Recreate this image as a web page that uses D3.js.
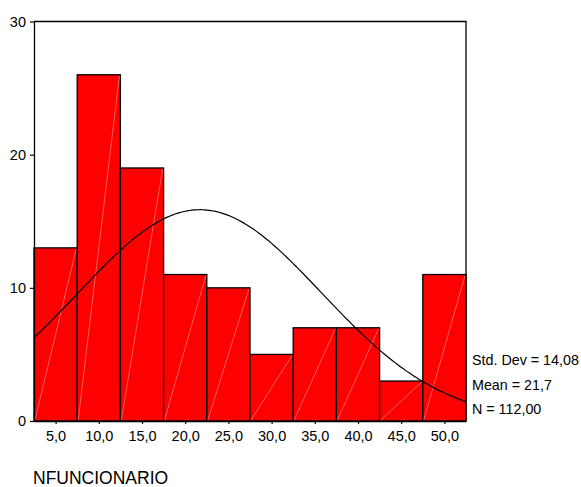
<!DOCTYPE html>
<html>
<head>
<meta charset="utf-8">
<script src="https://cdn.jsdelivr.net/npm/d3@7/dist/d3.min.js"></script>
<style>
  html, body { margin: 0; padding: 0; background: #fff; }
  svg { display: block; font-family: "Liberation Sans", Arial, sans-serif; }
</style>
</head>
<body>
<svg id="chart" width="581" height="487"></svg>
<script>
// Histogram of NFUNCIONARIO with a fitted normal curve
const binStarts = [2.5, 7.5, 12.5, 17.5, 22.5, 27.5, 32.5, 37.5, 42.5, 47.5];
const binWidth = 5;
const counts = [13, 26, 19, 11, 10, 5, 7, 7, 3, 11];
const xTicks = [5, 10, 15, 20, 25, 30, 35, 40, 45, 50];
const yTicks = [0, 10, 20, 30];
const stdDev = 14.08;
const mean = 21.7;
const nTotal = 112;
const statLabels = ["Std. Dev = 14,08", "Mean = 21,7", "N = 112,00"];
const variableName = "NFUNCIONARIO";

const svg = d3.select("#chart");
const plotLeft = 34, plotRight = 466, plotTop = 21.5, plotBottom = 421;

const x = d3.scaleLinear().domain([2.5, 52.5]).range([plotLeft, plotRight]);
const y = d3.scaleLinear().domain([0, 30]).range([plotBottom, plotTop]);

// bars
const bars = svg.append("g");
bars.selectAll("rect")
  .data(counts)
  .join("rect")
  .attr("x", (d, i) => x(binStarts[i]))
  .attr("y", d => y(d))
  .attr("width", (d, i) => x(binStarts[i] + binWidth) - x(binStarts[i]))
  .attr("height", d => y(0) - y(d))
  .attr("fill", "#ff0000")
  .attr("stroke", "#000")
  .attr("stroke-width", 1.3);

// faint diagonal inside each bar
bars.selectAll("line")
  .data(counts)
  .join("line")
  .attr("x1", (d, i) => x(binStarts[i]) + 1)
  .attr("y1", y(0) - 1)
  .attr("x2", (d, i) => x(binStarts[i] + binWidth) - 1)
  .attr("y2", d => y(d) + 1)
  .attr("stroke", "#ff9c9c")
  .attr("stroke-width", 0.6);

// frame top and right
svg.append("path")
  .attr("d", `M${plotLeft},${plotTop}H${plotRight}V${plotBottom}`)
  .attr("fill", "none")
  .attr("stroke", "#000")
  .attr("stroke-width", 1.3);

// normal curve from stated mean / std. dev / N
const scaleFactor = nTotal * binWidth / (stdDev * Math.sqrt(2 * Math.PI));
const curveXs = d3.range(2.5, 52.5001, 0.25);
const line = d3.line()
  .x(v => x(v))
  .y(v => y(scaleFactor * Math.exp(-0.5 * Math.pow((v - mean) / stdDev, 2))))
  .curve(d3.curveLinear);
svg.append("path")
  .datum(curveXs)
  .attr("d", line)
  .attr("fill", "none")
  .attr("stroke", "#000")
  .attr("stroke-width", 1.2);

// axes
const yAxis = svg.append("g")
  .attr("transform", `translate(${plotLeft},0)`)
  .call(d3.axisLeft(y).tickValues(yTicks).tickSize(4).tickSizeOuter(0).tickPadding(4));
yAxis.selectAll("text").attr("font-size", 14.5).attr("fill", "#000").attr("font-family", "Liberation Sans, Arial, sans-serif");

const xAxis = svg.append("g")
  .attr("transform", `translate(0,${plotBottom})`)
  .call(d3.axisBottom(x).tickValues(xTicks).tickSize(3).tickSizeOuter(0).tickPadding(7)
    .tickFormat(d => d.toFixed(1).replace(".", ",")));
xAxis.selectAll("text").attr("font-size", 14.5).attr("fill", "#000").attr("font-family", "Liberation Sans, Arial, sans-serif");

svg.selectAll(".domain").attr("stroke", "#000").attr("stroke-width", 1.3);
svg.selectAll(".tick line").attr("stroke", "#000").attr("stroke-width", 1.2);

// statistics
svg.append("g").selectAll("text")
  .data(statLabels)
  .join("text")
  .attr("x", 472)
  .attr("y", (d, i) => 365 + i * 24.5)
  .attr("font-size", 14.3)
  .attr("fill", "#000")
  .text(d => d);

// variable name
svg.append("text")
  .attr("x", 33)
  .attr("y", 484)
  .attr("font-size", 17.5)
  .attr("fill", "#000")
  .text(variableName);
</script>
</body>
</html>
